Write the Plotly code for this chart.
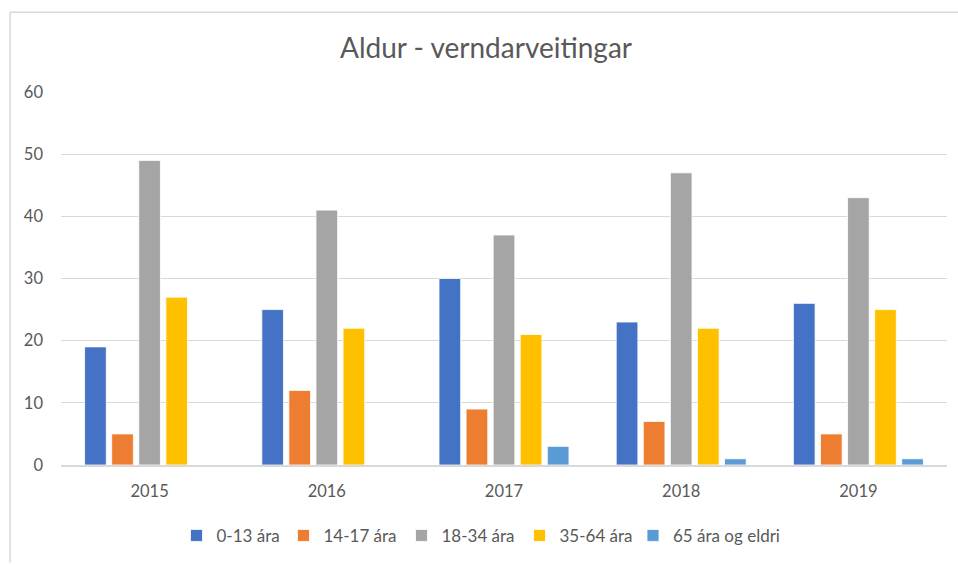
import plotly.graph_objects as go

years = ["2015", "2016", "2017", "2018", "2019"]
series_names = ["0-13 ára", "14-17 ára", "18-34 ára", "35-64 ára", "65 ára og eldri"]
v_0_13 = [19, 25, 30, 23, 26]
v_14_17 = [5, 12, 9, 7, 5]
v_18_34 = [49, 41, 37, 47, 43]
v_35_64 = [27, 22, 21, 22, 25]
v_65 = [0, 0, 3, 1, 1]
colors = ["#4472C4", "#ED7D31", "#A5A5A5", "#FFC000", "#5B9BD5"]
# pixel centres of the legend swatches in the reference
legend_swatch_px = [203.5, 310.5, 428.5, 546.5, 660]

L, R, T, B = 61, 11, 92, 94
W, H = 958, 565
pw, ph = W - L - R, H - T - B

def px_x(p):
    return (p - L) / pw

def px_y(p):
    return (H - B - p) / ph

legend_ids = ["legend", "legend2", "legend3", "legend4", "legend5"]

fig = go.Figure()
for name, vals, c, lid in zip(series_names, [v_0_13, v_14_17, v_18_34, v_35_64, v_65], colors, legend_ids):
    fig.add_trace(go.Bar(x=years, y=vals, name=name, legend=lid,
                         marker=dict(color=c, line=dict(color="white", width=0.8))))

legend_layout = {}
for lid, cx in zip(legend_ids, legend_swatch_px):
    legend_layout[lid] = dict(orientation="h", x=px_x(cx - 27), xanchor="left",
                              y=px_y(543), yanchor="middle", bgcolor="rgba(0,0,0,0)",
                              font=dict(size=17, color="#595959"), itemwidth=30)

fig.update_layout(
    width=W, height=H,
    margin=dict(l=L, r=R, t=T, b=B),
    paper_bgcolor="white", plot_bgcolor="white",
    font=dict(family="Lato, Carlito, sans-serif", color="#595959", size=16),
    title=dict(text="Aldur - verndarveitingar", x=486 / W, xref="container", xanchor="center",
               y=1 - 48 / H, yref="container", yanchor="middle", font=dict(size=28, color="#595959")),
    barmode="group", bargap=0.236, bargroupgap=0.2,
    xaxis=dict(showgrid=False, showline=True, linecolor="#D9D9D9", linewidth=1.5,
               ticks="", ticklabelstandoff=10, tickfont=dict(size=16.5, color="#595959")),
    yaxis=dict(range=[0, 60], dtick=10, showgrid=True, gridcolor="#D9D9D9", gridwidth=1,
               zeroline=False, showline=False, ticks="", ticklabelstandoff=17,
               tickfont=dict(size=16.5, color="#595959")),
    showlegend=True,
    shapes=[
        dict(type="line", xref="paper", yref="paper", x0=px_x(10), x1=px_x(W + 5),
             y0=px_y(11), y1=px_y(11), line=dict(color="#D9D9D9", width=1.5)),
        dict(type="line", xref="paper", yref="paper", x0=px_x(10), x1=px_x(10),
             y0=px_y(11), y1=px_y(H + 5), line=dict(color="#D9D9D9", width=1.5)),
    ],
    **legend_layout,
)

fig.write_html("out.html", config={"displayModeBar": False})

with open("out.html", "r", encoding="utf-8") as f:
    html = f.read()
html = html.replace("<head>", "<head><style>html,body{margin:0;padding:0;overflow:hidden;}</style>", 1)
with open("out.html", "w", encoding="utf-8") as f:
    f.write(html)
